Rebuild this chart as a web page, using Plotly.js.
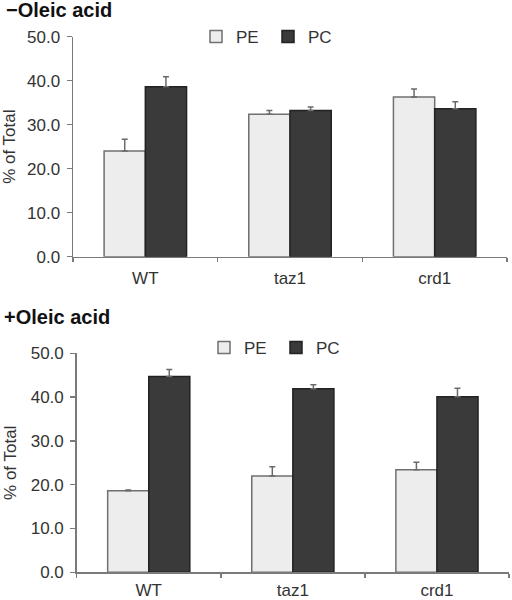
<!DOCTYPE html>
<html>
<head>
<meta charset="utf-8">
<script src="https://cdn.plot.ly/plotly-3.0.1.min.js"></script>
<style>html,body{margin:0;padding:0;background:#fff;}#chart{width:512px;height:600px;}</style>
</head>
<body>
<div id="chart"></div>
<script>
const categories = ["WT", "taz1", "crd1"];
const seriesNames = ["PE", "PC"];
const panelTitles = ["\u2212Oleic acid", "+Oleic acid"];
// Without oleic acid
const minusPE = [24.0, 32.4, 36.3];
const minusPEerr = [2.7, 0.8, 1.8];
const minusPC = [38.6, 33.2, 33.6];
const minusPCerr = [2.3, 0.8, 1.6];
// With oleic acid
const plusPE = [18.6, 22.0, 23.4];
const plusPEerr = [0.2, 2.1, 1.7];
const plusPC = [44.7, 41.9, 40.1];
const plusPCerr = [1.6, 0.9, 1.9];
const yTicks = [0, 10, 20, 30, 40, 50];

const W = 512, H = 600;
const peStyle = {color: '#ededed', line: {color: '#707070', width: 1.5}};
const pcStyle = {color: '#3a3a3a', line: {color: '#222222', width: 1.5}};
const errStyle = {type: 'data', symmetric: false, color: '#6a6a6a', thickness: 1.5, width: 3};

function mkBar(name, y, err, style, xa, ya, legend) {
  return {
    type: 'bar', name: name, x: categories, y: y,
    xaxis: xa, yaxis: ya, legend: legend,
    marker: style,
    error_y: Object.assign({array: err, arrayminus: err.map(() => 0)}, errStyle),
    hoverinfo: 'skip'
  };
}

const data = [
  mkBar(seriesNames[0], minusPE, minusPEerr, peStyle, 'x', 'y', 'legend'),
  mkBar(seriesNames[1], minusPC, minusPCerr, pcStyle, 'x', 'y', 'legend'),
  mkBar(seriesNames[0], plusPE, plusPEerr, peStyle, 'x2', 'y2', 'legend2'),
  mkBar(seriesNames[1], plusPC, plusPCerr, pcStyle, 'x2', 'y2', 'legend2')
];

const font = {family: 'Liberation Sans, Arial, sans-serif', size: 17, color: '#333333'};

function xAxis(domain, anchor, standoff) {
  return {
    domain: domain, anchor: anchor, type: 'category',
    showline: true, linecolor: '#7a7a7a', linewidth: 1.5,
    ticks: 'outside', tickson: 'boundaries', ticklen: 4, tickcolor: '#7a7a7a', tickwidth: 1.5,
    showgrid: false, zeroline: false, fixedrange: true,
    tickfont: font, ticklabelstandoff: standoff
  };
}
function yAxis(domain, anchor) {
  return {
    domain: domain, anchor: anchor, range: [0, 50],
    tickvals: yTicks, tickformat: '.1f',
    showline: true, linecolor: '#7a7a7a', linewidth: 1.5,
    ticks: 'outside', ticklen: 5, tickcolor: '#7a7a7a', tickwidth: 1.5,
    showgrid: false, zeroline: false, fixedrange: true,
    tickfont: font, ticklabelstandoff: 3,
    title: {text: '% of Total', font: font, standoff: 10}
  };
}

const legendCommon = {orientation: 'h', xanchor: 'left', yanchor: 'middle', font: font,
  bgcolor: 'rgba(0,0,0,0)', traceorder: 'normal', entrywidth: 27, entrywidthmode: 'pixels'};

const layout = {
  width: W, height: H,
  margin: {l: 0, r: 0, t: 0, b: 0},
  paper_bgcolor: '#ffffff', plot_bgcolor: '#ffffff',
  font: font,
  barmode: 'group', bargap: 0.43, bargroupgap: 0,
  showlegend: true,
  xaxis: xAxis([73 / W, 507 / W], 'y', 5),
  yaxis: yAxis([1 - 256.7 / H, 1 - 36.7 / H], 'x'),
  xaxis2: xAxis([76.7 / W, 509 / W], 'y2', 2),
  yaxis2: yAxis([1 - 572.3 / H, 1 - 353.3 / H], 'x2'),
  legend: Object.assign({x: 196 / W, y: 1 - 37 / H}, legendCommon),
  legend2: Object.assign({x: 204 / W, y: 1 - 348 / H}, legendCommon),
  annotations: [
    {text: '<b>' + panelTitles[0] + '</b>', xref: 'paper', yref: 'paper', x: 4 / W, y: 1 - 10 / H,
     xanchor: 'left', yanchor: 'middle', showarrow: false,
     font: {family: 'Liberation Sans, Arial, sans-serif', size: 20, color: '#111111'}},
    {text: '<b>' + panelTitles[1] + '</b>', xref: 'paper', yref: 'paper', x: 2 / W, y: 1 - 317 / H,
     xanchor: 'left', yanchor: 'middle', showarrow: false,
     font: {family: 'Liberation Sans, Arial, sans-serif', size: 20, color: '#111111'}}
  ]
};

Plotly.newPlot('chart', data, layout, {displayModeBar: false, staticPlot: true});
</script>
</body>
</html>
